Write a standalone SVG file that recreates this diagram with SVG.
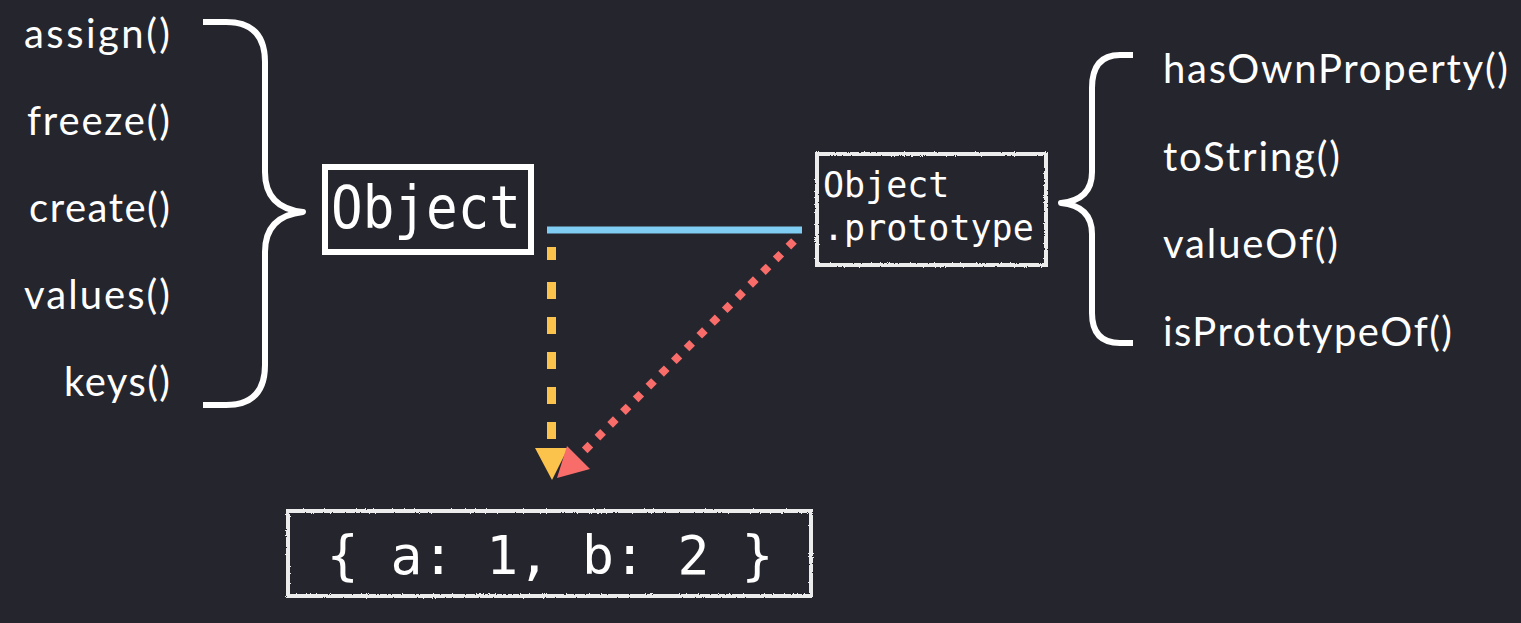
<svg xmlns="http://www.w3.org/2000/svg" width="1521" height="623" viewBox="0 0 1521 623">
  <defs>
    <style>
      .bg { fill: #25252d; }
      .label { font-family: Lato, "Open Sans", sans-serif; font-size: 40px; fill: #ffffff; }
      .code { font-family: "DejaVu Sans Mono", "Liberation Mono", monospace; fill: #ffffff; }
      .brace { fill: none; stroke: #ffffff; stroke-width: 6; stroke-linecap: butt; stroke-linejoin: round; }
      .chalk { fill: none; stroke: #ececec; stroke-width: 4; filter: url(#rough); }
    </style>
    <!-- slightly ragged, chalk-like edge for hand-drawn frames -->
    <filter id="rough" x="-5%" y="-5%" width="110%" height="110%">
      <feTurbulence type="fractalNoise" baseFrequency="0.9" numOctaves="2" seed="3" result="noise"/>
      <feDisplacementMap in="SourceGraphic" in2="noise" scale="2.5" xChannelSelector="R" yChannelSelector="G"/>
    </filter>
  </defs>

  <rect class="bg" x="0" y="0" width="1521" height="623"/>

  <!-- static methods on Object -->
  <g id="static-methods">
    <text class="label" x="170" y="48" text-anchor="end" textLength="146" lengthAdjust="spacing">assign()</text>
    <text class="label" x="170" y="135" text-anchor="end" textLength="143" lengthAdjust="spacing">freeze()</text>
    <text class="label" x="170" y="222" text-anchor="end" textLength="141" lengthAdjust="spacing">create()</text>
    <text class="label" x="170" y="309" text-anchor="end" textLength="146" lengthAdjust="spacing">values()</text>
    <text class="label" x="170" y="396" text-anchor="end" textLength="106" lengthAdjust="spacing">keys()</text>
    <path class="brace" d="M203,22 H226 Q265,22 265,62 V172 Q265,208 303,212 Q265,216 265,252 V365 Q265,405 226,405 H203"/>
  </g>

  <!-- Object constructor -->
  <g id="object">
    <rect x="325" y="167" width="206" height="85" fill="none" stroke="#ffffff" stroke-width="6"/>
    <text class="code" x="331" y="228" font-size="58" textLength="190" lengthAdjust="spacingAndGlyphs">Object</text>
  </g>

  <!-- Object.prototype -->
  <g id="object-prototype">
    <rect class="chalk" x="817" y="154" width="229" height="111"/>
    <text class="code" x="823" y="197" font-size="35">Object</text>
    <text class="code" x="823" y="240" font-size="35">.prototype</text>
  </g>

  <!-- prototype methods -->
  <g id="prototype-methods">
    <path class="brace" d="M1133,55 H1120 Q1092,55 1092,88 V172 Q1092,200 1061,203 Q1092,206 1092,234 V313 Q1092,343 1120,343 H1133"/>
    <text class="label" x="1163" y="83" textLength="345" lengthAdjust="spacing">hasOwnProperty()</text>
    <text class="label" x="1163" y="171" textLength="177" lengthAdjust="spacing">toString()</text>
    <text class="label" x="1163" y="258" textLength="175" lengthAdjust="spacing">valueOf()</text>
    <text class="label" x="1163" y="346" textLength="289" lengthAdjust="spacing">isPrototypeOf()</text>
  </g>

  <!-- object literal instance -->
  <g id="instance">
    <rect class="chalk" x="288" y="511" width="523" height="85"/>
    <text class="code" x="550" y="574" font-size="53" text-anchor="middle">{ a: 1, b: 2 }</text>
  </g>

  <!-- links between nodes -->
  <g id="connectors">
    <!-- Object .prototype property -->
    <line x1="547" y1="230" x2="802" y2="230" stroke="#80cdf3" stroke-width="7"/>
    <!-- constructor creates instance -->
    <line x1="551.5" y1="247" x2="551.5" y2="446" stroke="#fbc34b" stroke-width="9" stroke-dasharray="13 22 17 18 17 18 17 18 17 18 17 18"/>
    <polygon points="535,448 568,448 552,480" fill="#fbc34b"/>
    <!-- instance's prototype link -->
    <line x1="794" y1="241" x2="578" y2="457" stroke="#f86c6a" stroke-width="8" stroke-dasharray="8 10"/>
    <polygon points="557,478 567,446 590,469" fill="#f86c6a"/>
  </g>
</svg>
